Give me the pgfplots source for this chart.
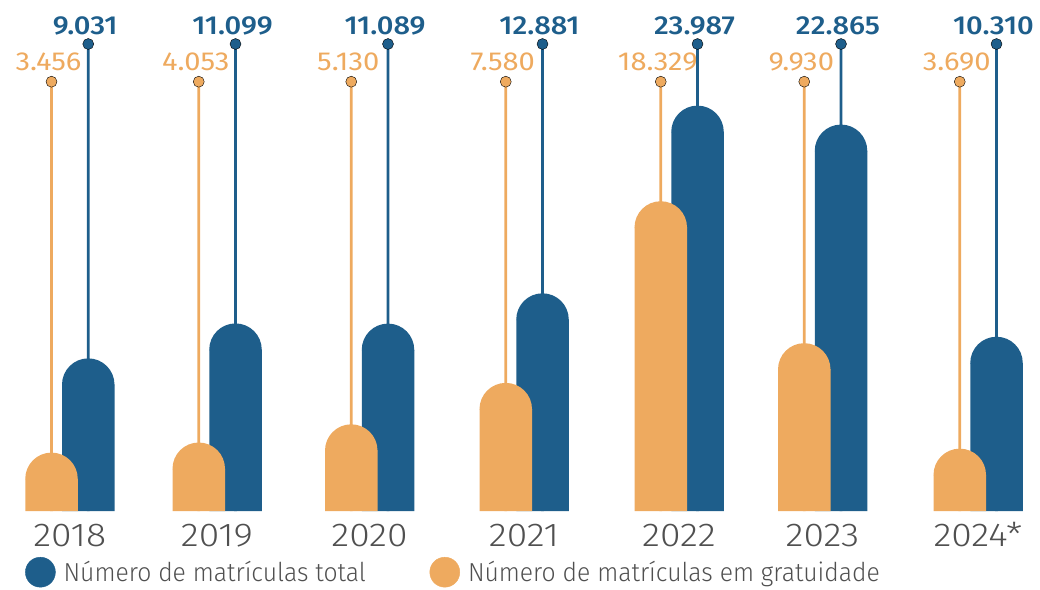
\documentclass[border=0pt]{standalone}
\usepackage{pgfplots}
\usepackage{pgfplotstable}
\pgfplotsset{compat=1.18}
\usepackage{fontspec}
\setmainfont{Fira Sans}[FakeStretch=1.12]
\newfontfamily\flight{Fira Sans Light}[FakeStretch=1.13]
\newfontfamily\flightleg{Fira Sans Light}[FakeStretch=0.95]
\newfontfamily\fmed{Fira Sans Medium}[FakeStretch=1.12]
\definecolor{bblue}{RGB}{30,94,139}
\definecolor{gold}{RGB}{238,170,95}
\definecolor{textgray}{RGB}{80,80,80}
% half disc mark (rounded bar top)
\pgfdeclareplotmark{semi}{%
  \pgfpathmoveto{\pgfqpoint{-\pgfplotmarksize}{-0.6pt}}%
  \pgfpathlineto{\pgfqpoint{-\pgfplotmarksize}{0pt}}%
  \pgfpatharc{180}{0}{\pgfplotmarksize}%
  \pgfpathlineto{\pgfqpoint{\pgfplotmarksize}{-0.6pt}}%
  \pgfpathclose\pgfusepathqfill}
\pgfplotstableread{
pos grat total
69.75 3456 9031
217 4053 11099
369.5 5130 11089
524 7580 12881
679 18329 23987
822.5 9930 22865
978 3690 10310
}\data
\begin{document}
\begin{tikzpicture}
\begin{axis}[
  scale only axis, width=1040pt, height=589pt,
  xmin=0, xmax=1040, ymin=-4615, ymax=30236,
  clip=false,
  axis line style={draw=none}, tick style={draw=none},
  ytick=\empty,
  xtick={69.75,217,369.5,524,679,822.5,978},
  xticklabels={2018,2019,2020,2021,2022,2023,2024*},
  xticklabel style={font=\flight\fontsize{33}{36}\selectfont, text=textgray, anchor=base, yshift=43pt},
  /pgf/number format/.cd, fixed, precision=0, 1000 sep={.}, assume math mode=true,
  /pgfplots/.cd,
  legend style={draw=none, fill=none, inner sep=0pt, column sep=0pt, nodes={inner sep=0pt},
    at={(axis cs:25,-3620)}, anchor=west, font=\flightleg\fontsize{26}{30}\selectfont, text=textgray},
  legend columns=2, legend cell align=left,
]
% orange lines with dots and labels
\addplot[forget plot, ybar, bar width=2.7pt, bar shift=0pt, fill=gold, draw=none,
  mark=*, mark size=5.5pt, mark options={fill=gold, draw=none},
  point meta=explicit, nodes near coords,
  every node near coord/.append style={font=\fontsize{26}{30}\selectfont, text=gold, anchor=base, yshift=11pt, xshift=-3pt}]
  table[x expr=\thisrow{pos}-18.25, y expr=25402, meta=grat] {\data};
% blue lines with dots and labels
\addplot[forget plot, ybar, bar width=2.7pt, bar shift=0pt, fill=bblue, draw=none,
  mark=*, mark size=5.5pt, mark options={fill=bblue, draw=none},
  point meta=explicit, nodes near coords,
  every node near coord/.append style={font=\fmed\fontsize{26}{30}\selectfont, text=bblue, anchor=base, yshift=10pt, xshift=-3pt}]
  table[x expr=\thisrow{pos}+18.5, y expr=27632, meta=total] {\data};
% blue bars (total)
\addplot[forget plot, ybar, bar width=52.5pt, bar shift=0pt, fill=bblue, draw=none,
  mark=semi, mark size=26.25pt, mark options={fill=bblue, draw=none}]
  table[x expr=\thisrow{pos}+18.5, y expr=\thisrow{total}-1553] {\data};
% orange bars (gratuidade)
\addplot[forget plot, ybar, bar width=52.5pt, bar shift=0pt, fill=gold, draw=none,
  mark=semi, mark size=26.25pt, mark options={fill=gold, draw=none}]
  table[x expr=\thisrow{pos}-18.25, y expr=\thisrow{grat}-1553] {\data};
\addlegendimage{legend image code/.code={\fill[bblue] (15pt,0pt) circle (15pt);}}
\addlegendentry{\makebox[374pt][l]{\hspace*{8pt}Número de matrículas total}}
\addlegendimage{legend image code/.code={\fill[gold] (15pt,0pt) circle (15pt);}}
\addlegendentry{\hspace*{8pt}Número de matrículas em gratuidade}
\end{axis}
\pgfresetboundingbox
\path[use as bounding box] (current axis.south west) rectangle (current axis.north east);
\end{tikzpicture}
\end{document}
